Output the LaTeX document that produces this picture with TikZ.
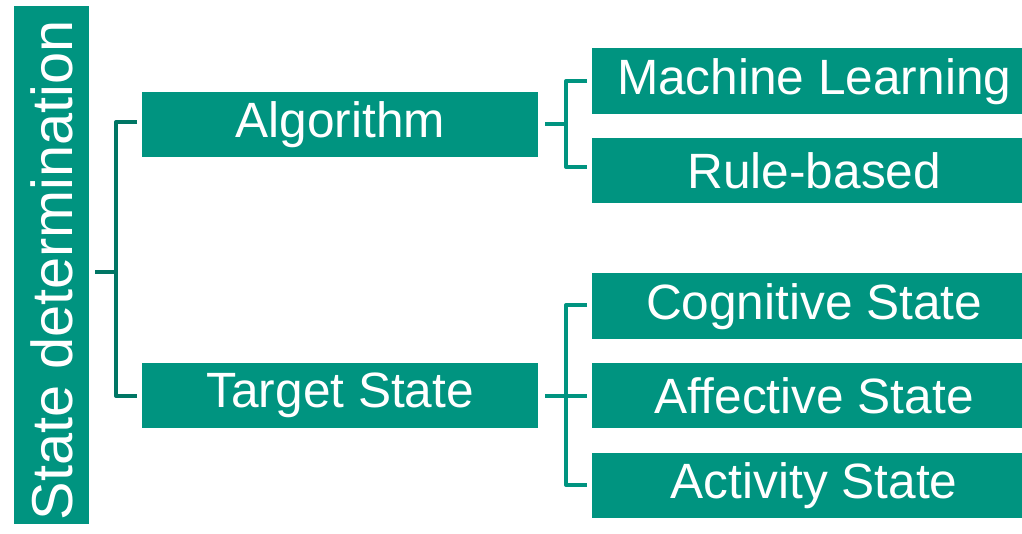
\documentclass[tikz,border=0pt]{standalone}
\usepackage{fontspec}
\setmainfont{Liberation Sans}
\definecolor{teal1}{RGB}{0,148,128}
\definecolor{teal2}{RGB}{0,118,100}
\newcommand{\lowered}[1]{\raisebox{-3pt}{#1}}
\tikzset{
  x=1pt, y=-1pt,
  box/.style={fill=teal1, text=white, inner sep=0pt, anchor=north west,
              font=\fontsize{49.6}{55}\selectfont},
  rootbox/.style={fill=teal1, inner sep=0pt, anchor=north west},
  brkdark/.style={draw=teal2, line width=4pt, line join=round},
  brklight/.style={draw=teal1, line width=4pt, line join=round},
}
\begin{document}
\begin{tikzpicture}
\useasboundingbox (0,0) rectangle (1022,534);
% root
\node[rootbox, minimum width=75pt, minimum height=518pt] (root) at (14,6) {};
\node[text=white, font=\fontsize{57.7}{64}\selectfont, rotate=90, inner sep=0pt]
  (roottext) at ([yshift=-5pt]root.center) {State determination};
% level one
\node[box, minimum width=396pt, minimum height=65pt] (algo) at (142,92) {\lowered{Algorithm}};
\node[box, minimum width=396pt, minimum height=65pt] (tgt) at (142,363) {\lowered{Target State}};
% level two (right edges run past the page)
\node[box, minimum width=444pt, minimum height=66pt] (ml) at (592,48) {\lowered{Machine Learning}};
\node[box, minimum width=444pt, minimum height=65pt] (rb) at (592,138) {\lowered{Rule-based}};
\node[box, minimum width=444pt, minimum height=66pt] (cog) at (592,273) {\lowered{Cognitive State}};
\node[box, minimum width=444pt, minimum height=65pt] (aff) at (592,363) {\lowered{Affective State}};
\node[box, minimum width=444pt, minimum height=65pt] (act) at (592,453) {\lowered{Activity State}};
% joints
\coordinate (j0) at (95,272);
\coordinate (v0) at (116,272);
\coordinate (j1) at (545,124);
\coordinate (v1) at (566,124);
\coordinate (j2) at (545,396);
\coordinate (v2) at (566,396);
% left bracket
\draw[brkdark] (j0) -- (v0);
\draw[brkdark] ([xshift=-5]algo.west |- 0,122) -| (v0) |- ([xshift=-5]tgt.west |- 0,396);
% algorithm bracket
\draw[brklight] (j1) -- (v1);
\draw[brklight] ([xshift=-5]ml.west |- 0,81) -| (v1) |- ([xshift=-5]rb.west |- 0,167);
% target bracket
\draw[brklight] (j2) -- ([xshift=-5]aff.west |- 0,396);
\draw[brklight] ([xshift=-5]cog.west |- 0,305) -| (v2) |- ([xshift=-5]act.west |- 0,485);
\end{tikzpicture}
\end{document}
